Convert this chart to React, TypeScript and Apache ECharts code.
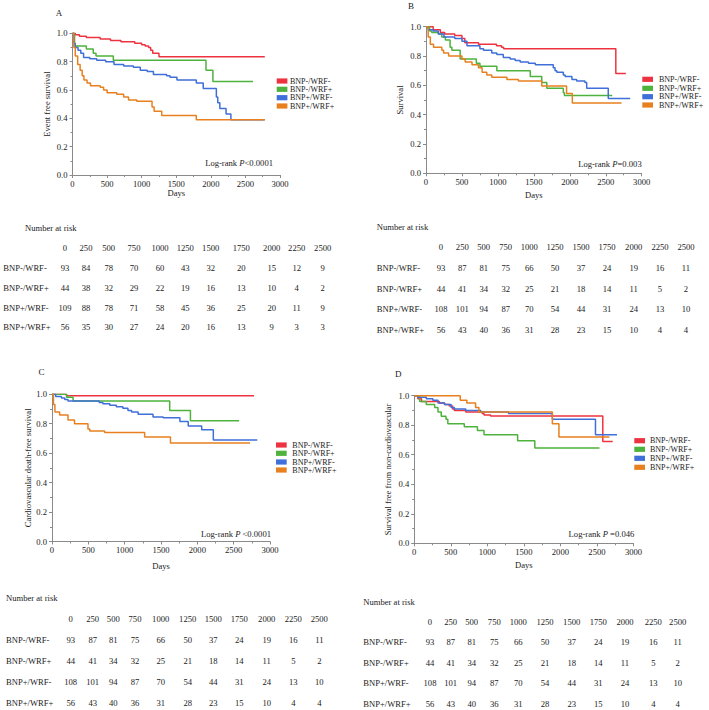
import React, { useEffect, useRef } from "react";
import * as echarts from "echarts";

const FONT = '"Liberation Serif", "Times New Roman", serif';

const groups = ["BNP-/WRF-", "BNP-/WRF+", "BNP+/WRF-", "BNP+/WRF+"];
const groupColors = ["#EE3340", "#4DB33D", "#3F6FD8", "#E8801F"];
const riskDays = [0, 250, 500, 750, 1000, 1250, 1500, 1750, 2000, 2250, 2500];
const xTicks = [0, 500, 1000, 1500, 2000, 2500, 3000];

// Panel A: event free survival
const aNegNeg = [[0,1],[40,0.99],[100,0.98],[200,0.97],[400,0.96],[550,0.95],[700,0.94],[900,0.93],[1000,0.92],[1050,0.91],[1100,0.90],[1130,0.88],[1160,0.86],[1250,0.835],[2780,0.835]];
const aNegPos = [[0,1],[30,0.91],[200,0.89],[300,0.86],[340,0.84],[590,0.81],[1930,0.74],[2030,0.66],[2610,0.66]];
const aPosNeg = [[0,1],[20,0.93],[40,0.90],[80,0.88],[120,0.86],[160,0.83],[250,0.82],[350,0.81],[480,0.80],[600,0.78],[740,0.77],[880,0.76],[980,0.74],[1080,0.73],[1170,0.71],[1360,0.70],[1410,0.69],[1510,0.67],[1790,0.65],[1890,0.61],[2080,0.55],[2100,0.51],[2130,0.47],[2220,0.43],[2290,0.39],[2780,0.39]];
const aPosPos = [[0,1],[20,0.90],[40,0.84],[75,0.78],[110,0.74],[140,0.70],[165,0.67],[210,0.65],[260,0.63],[400,0.62],[450,0.60],[500,0.58],[640,0.57],[740,0.55],[810,0.53],[930,0.52],[1150,0.48],[1180,0.45],[1290,0.42],[1790,0.39],[2780,0.39]];

// Panel B: survival
const bNegNeg = [[0,1],[100,0.98],[200,0.96],[260,0.95],[400,0.94],[500,0.92],[540,0.89],[730,0.88],[980,0.87],[1050,0.86],[1080,0.85],[2640,0.68],[2780,0.68]];
const bNegPos = [[0,1],[50,0.97],[80,0.96],[175,0.95],[220,0.93],[270,0.91],[335,0.86],[360,0.84],[475,0.78],[700,0.75],[750,0.73],[985,0.70],[1450,0.66],[1610,0.62],[1680,0.58],[1910,0.55],[1925,0.53],[2590,0.53]];
const bPosNeg = [[0,1],[30,0.98],[100,0.97],[170,0.95],[250,0.93],[400,0.92],[500,0.90],[570,0.87],[750,0.85],[800,0.84],[915,0.82],[985,0.81],[1075,0.79],[1170,0.78],[1240,0.77],[1310,0.76],[1425,0.75],[1520,0.74],[1770,0.72],[1795,0.70],[1820,0.69],[1910,0.67],[1935,0.66],[2030,0.64],[2095,0.63],[2210,0.62],[2235,0.58],[2535,0.51],[2840,0.51]];
const bPosPos = [[0,1],[30,0.93],[60,0.88],[105,0.86],[220,0.84],[245,0.82],[315,0.80],[500,0.78],[545,0.76],[640,0.74],[730,0.72],[780,0.69],[845,0.67],[915,0.655],[1125,0.64],[1285,0.63],[1610,0.595],[1955,0.545],[2035,0.48],[2720,0.48]];

// Panel C: cardiovascular death-free survival
const cNegNeg = [[0,1],[200,0.99],[2780,0.99]];
const cNegPos = [[0,1],[200,0.98],[290,0.955],[1620,0.89],[1905,0.82],[2575,0.82]];
const cPosNeg = [[0,1],[50,0.985],[130,0.975],[175,0.965],[220,0.955],[650,0.945],[700,0.935],[795,0.925],[885,0.915],[975,0.905],[1045,0.89],[1095,0.88],[1185,0.865],[1390,0.845],[1530,0.84],[1760,0.815],[1875,0.785],[2060,0.76],[2220,0.69],[2825,0.69]];
const cPosPos = [[0,1],[20,0.93],[40,0.88],[105,0.86],[220,0.825],[310,0.80],[495,0.765],[520,0.75],[725,0.74],[1275,0.71],[1630,0.67],[2725,0.67]];

// Panel D: survival free from non-cardiovascular death
const dNegNeg = [[0,1],[50,0.98],[100,0.96],[345,0.95],[415,0.94],[480,0.93],[525,0.91],[550,0.90],[705,0.89],[930,0.88],[955,0.87],[1045,0.862],[2580,0.69],[2715,0.69]];
const dNegPos = [[0,1],[75,0.96],[165,0.94],[280,0.92],[325,0.89],[370,0.86],[435,0.84],[460,0.81],[685,0.79],[865,0.765],[955,0.735],[1415,0.695],[1650,0.645],[2535,0.645]];
const dPosNeg = [[0,1],[50,0.99],[165,0.98],[255,0.97],[325,0.95],[415,0.94],[505,0.92],[550,0.91],[705,0.90],[910,0.89],[1290,0.88],[1890,0.84],[2480,0.735],[2775,0.735]];
const dPosPos = [[0,1],[630,0.97],[720,0.95],[840,0.92],[885,0.89],[1890,0.81],[1980,0.72],[2670,0.72]];

// Number at risk
const riskA = [
  [93, 84, 78, 70, 60, 43, 32, 20, 15, 12, 9],
  [44, 38, 32, 29, 22, 19, 16, 13, 10, 4, 2],
  [109, 88, 78, 71, 58, 45, 36, 25, 20, 11, 9],
  [56, 35, 30, 27, 24, 20, 16, 13, 9, 3, 3],
];
const riskBCD = [
  [93, 87, 81, 75, 66, 50, 37, 24, 19, 16, 11],
  [44, 41, 34, 32, 25, 21, 18, 14, 11, 5, 2],
  [108, 101, 94, 87, 70, 54, 44, 31, 24, 13, 10],
  [56, 43, 40, 36, 31, 28, 23, 15, 10, 4, 4],
];

const panelTitles = ["A", "B", "C", "D"];
const yTitles = ["Event free survival", "Survival", "Cardiovascular death-free survival", "Survival free from non-cardiovascular"];
const logRankOps = ["<0.0001", "=0.003", " <0.0001", " =0.046"];

const panelCurves = [
  [aNegNeg, aNegPos, aPosNeg, aPosPos],
  [bNegNeg, bNegPos, bPosNeg, bPosPos],
  [cNegNeg, cNegPos, cPosNeg, cPosPos],
  [dNegNeg, dNegPos, dPosNeg, dPosPos],
];
const panelRisk = [riskA, riskBCD, riskBCD, riskBCD];

// Layout (pixels)
const layouts = [
  { grid: { left: 72.5, top: 33.3, width: 207.5, height: 141.7 }, yGap: 21, xGap: 13, letter: [59, 13], legend: { x: 276.7, tx: 290, y: [81, 89.3, 97.7, 106] }, logrank: [273, 163] },
  { grid: { left: 426, top: 26.7, width: 215.7, height: 146.6 }, yGap: 21.5, xGap: 17.5, letter: [411, 6], legend: { x: 642.3, tx: 659, y: [79.3, 88.3, 96.7, 105] }, logrank: [641.7, 164] },
  { grid: { left: 52, top: 394.3, width: 218, height: 147.2 }, yGap: 17.5, xGap: 20, letter: [41.5, 371.7], legend: { x: 276, tx: 292.3, y: [445, 453.3, 462, 470] }, logrank: [271, 534.3] },
  { grid: { left: 414.2, top: 395.7, width: 219.3, height: 147.6 }, yGap: 21.5, xGap: 17.5, letter: [398.3, 374.3], legend: { x: 634.3, tx: 650, y: [440.7, 449.3, 458.3, 467.3] }, logrank: [634.3, 534] },
];
const tableLayouts = [
  { titleX: 25, titleY: 228.3, headerY: 247.7, rowY: [267.7, 287.7, 307.7, 327.3], labelX: 3.3, colX: [65, 86, 108.7, 134, 160, 185.3, 210.7, 241.3, 271.7, 296.7, 322.7] },
  { titleX: 376.7, titleY: 226.7, headerY: 247.3, rowY: [268.3, 289, 309.3, 330], labelX: 376.7, colX: [441, 462.3, 483.7, 505.7, 529.3, 555, 581, 607, 633.7, 660, 686] },
  { titleX: 6, titleY: 598.3, headerY: 619.3, rowY: [640, 661, 681.7, 703.3], labelX: 6, colX: [70.7, 92.7, 113.3, 135, 160.7, 187.7, 213.3, 239.3, 266.7, 293.3, 319.3] },
  { titleX: 363.3, titleY: 602.3, headerY: 621.7, rowY: [641.7, 662.7, 683.3, 704.3], labelX: 363.3, colX: [430, 450.7, 471.7, 494.3, 518.3, 545, 571.7, 598.3, 625, 653.3, 677.7] },
];

const FS = 8.6;
const LEG_FS = 8;
const TXT = "#1a1a1a";
const AXC = "#8a8a8a";

function txt(x: number, y: number, text: string, align = "left", size = FS, extra: any = {}) {
  return {
    type: "text",
    x,
    y,
    silent: true,
    style: {
      text,
      fill: TXT,
      fontSize: size,
      fontFamily: FONT,
      align,
      textAlign: align,
      verticalAlign: "middle",
      textVerticalAlign: "middle",
      ...extra,
    },
  };
}

function buildOption() {
  const grids: any[] = [];
  const xAxes: any[] = [];
  const yAxes: any[] = [];
  const series: any[] = [];
  const graphics: any[] = [];

  layouts.forEach((L, i) => {
    grids.push({ ...L.grid, containLabel: false });
    xAxes.push({
      type: "value",
      gridIndex: i,
      min: xTicks[0],
      max: xTicks[xTicks.length - 1],
      interval: 500,
      name: "Days",
      nameLocation: "middle",
      nameGap: L.xGap,
      nameTextStyle: { fontFamily: FONT, fontSize: FS, color: TXT },
      axisLine: { show: true, onZero: false, lineStyle: { color: AXC, width: 1 } },
      axisTick: { show: true, length: 3, lineStyle: { color: AXC } },
      minorTick: { show: true, splitNumber: 2, length: 2, lineStyle: { color: AXC } },
      axisLabel: { fontFamily: FONT, fontSize: FS, color: TXT, margin: 4, formatter: (v: number) => String(v) },
      splitLine: { show: false },
    });
    yAxes.push({
      type: "value",
      gridIndex: i,
      min: 0,
      max: 1,
      interval: 0.2,
      name: yTitles[i],
      nameLocation: "middle",
      nameGap: L.yGap,
      nameTextStyle: { fontFamily: FONT, fontSize: FS, color: TXT },
      axisLine: { show: true, lineStyle: { color: AXC, width: 1 } },
      axisTick: { show: true, length: 3, lineStyle: { color: AXC } },
      minorTick: { show: true, splitNumber: 2, length: 2, lineStyle: { color: AXC } },
      axisLabel: { fontFamily: FONT, fontSize: FS, color: TXT, margin: 5, formatter: (v: number) => v.toFixed(1) },
      splitLine: { show: false },
    });
    panelCurves[i].forEach((data, g) => {
      series.push({
        type: "line",
        name: groups[g],
        xAxisIndex: i,
        yAxisIndex: i,
        data,
        step: "end",
        symbol: "none",
        showSymbol: false,
        silent: true,
        lineStyle: { width: 1.5, color: groupColors[g] },
        itemStyle: { color: groupColors[g] },
      });
    });

    // panel letter
    graphics.push(txt(L.letter[0], L.letter[1], panelTitles[i], "center", FS + 0.4));
    // legend
    groups.forEach((name, g) => {
      graphics.push({
        type: "rect",
        silent: true,
        shape: { x: L.legend.x, y: L.legend.y[g] - 2.6, width: 10.7, height: 5.2 },
        style: { fill: groupColors[g] },
      });
      graphics.push(txt(L.legend.tx, L.legend.y[g], name, "left", LEG_FS, { lineHeight: 8 }));
    });
    // log-rank
    graphics.push({
      type: "text",
      x: L.logrank[0],
      y: L.logrank[1],
      silent: true,
      style: {
        text: "{n|Log-rank }{i|P}{n|" + logRankOps[i] + "}",
        align: "right",
        textAlign: "right",
        verticalAlign: "middle",
        textVerticalAlign: "middle",
        fill: TXT,
        fontSize: FS,
        fontFamily: FONT,
        rich: {
          n: { fontSize: FS, fontFamily: FONT, fill: TXT, color: TXT },
          i: { fontSize: FS, fontFamily: FONT, fontStyle: "italic", fill: TXT, color: TXT },
        },
      },
    });

    // number at risk table
    const T = tableLayouts[i];
    graphics.push(txt(T.titleX, T.titleY, "Number at risk", "left"));
    riskDays.forEach((d, c) => graphics.push(txt(T.colX[c], T.headerY, String(d), "center")));
    panelRisk[i].forEach((row, r) => {
      graphics.push(txt(T.labelX, T.rowY[r], groups[r], "left"));
      row.forEach((v, c) => graphics.push(txt(T.colX[c], T.rowY[r], String(v), "center")));
    });
  });

  return {
    animation: false,
    backgroundColor: "#ffffff",
    grid: grids,
    xAxis: xAxes,
    yAxis: yAxes,
    series,
    graphic: { elements: graphics },
  };
}

export default function App() {
  const ref = useRef<HTMLDivElement>(null);
  useEffect(() => {
    if (!ref.current) return;
    const chart = echarts.init(ref.current, undefined, { renderer: "svg" });
    chart.setOption(buildOption() as any);
    return () => chart.dispose();
  }, []);
  return (
    <div
      ref={ref}
      style={{ position: "absolute", left: 0, top: 0, width: 709, height: 710, background: "#fff" }}
    />
  );
}
